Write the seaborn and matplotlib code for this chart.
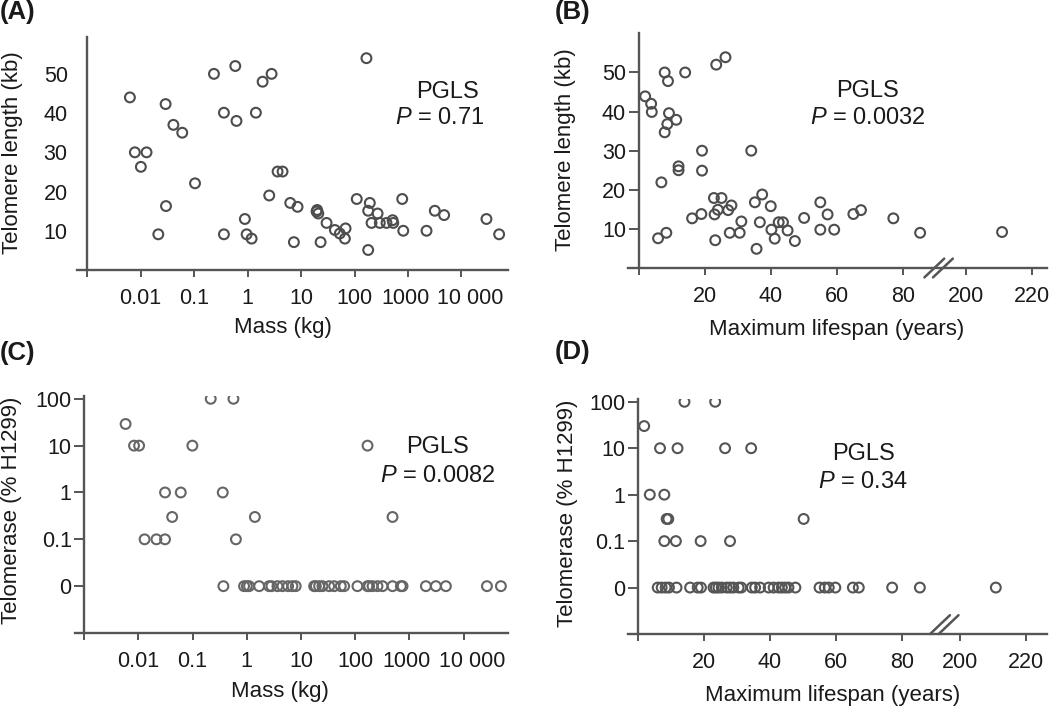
import numpy as np
import seaborn as sns
import matplotlib
matplotlib.use("Agg")
import matplotlib.pyplot as plt
from matplotlib.ticker import NullLocator
from matplotlib.transforms import ScaledTranslation

# (A) telomere length vs body mass
mass_a = [0.0063, 0.0078, 0.0129, 0.0101, 0.0214, 0.0293, 0.0298, 0.041, 0.060, 0.104,
          0.235, 0.361, 0.361, 0.589, 0.62, 0.89, 0.96, 1.19, 1.43, 1.91,
          2.81, 2.54, 3.64, 4.51, 6.28, 8.6, 7.35, 19.5, 21, 20,
          23.2, 30, 42.9, 53, 68, 66, 110, 167, 193, 180,
          270, 208, 297, 396, 515, 530, 180, 780, 815, 2220,
          3170, 4740, 29300, 50600]
tl_a = [44.0, 30.0, 30.0, 26.3, 9.1, 42.3, 16.3, 37.0, 35.0, 22.1,
        50.0, 40.1, 9.1, 52.0, 38.0, 13.0, 9.1, 8.0, 40.1, 48.0,
        50.0, 19.0, 25.1, 25.1, 17.1, 16.1, 7.1, 14.9, 14.4, 15.3,
        7.1, 12.0, 10.2, 9.3, 10.6, 8.0, 18.1, 54.0, 17.1, 15.1,
        14.4, 12.0, 12.0, 12.0, 12.7, 12.0, 5.1, 18.1, 10.0, 10.0,
        15.1, 14.0, 13.0, 9.1]

# (B) telomere length vs maximum lifespan
life_b = [2.0, 3.8, 4.0, 7.9, 8.9, 7.9, 8.7, 9.2, 11.4, 6.9,
          12.1, 12.1, 5.9, 8.4, 14.1, 23.5, 26.3, 19.2, 19.2, 16.2,
          19.0, 22.8, 25.1, 23.0, 24.0, 27.1, 28.1, 23.2, 27.6, 30.6,
          31.1, 34.1, 35.2, 37.4, 36.7, 35.7, 40.0, 40.2, 41.2, 42.4,
          43.7, 45.1, 47.3, 50.1, 55.0, 57.2, 55.0, 59.2, 65.0, 67.3,
          77.1, 85.2, 211]
tl_b = [43.9, 42.0, 39.9, 50.0, 47.8, 34.7, 36.8, 39.6, 37.9, 21.9,
        26.0, 25.0, 7.6, 9.0, 50.0, 52.0, 53.9, 30.0, 24.9, 12.7,
        13.8, 17.9, 17.9, 13.7, 14.9, 14.8, 16.0, 7.1, 9.0, 9.0,
        11.9, 30.0, 16.8, 18.8, 11.7, 4.9, 15.8, 9.8, 7.5, 11.7,
        11.7, 9.6, 6.9, 12.8, 16.8, 13.7, 9.8, 9.8, 13.8, 14.8,
        12.7, 9.0, 9.2]

# (C) telomerase activity vs body mass
mass_c = [0.0058, 0.0083, 0.0103, 0.013, 0.0215, 0.031, 0.031, 0.042, 0.0605, 0.099,
          0.216, 0.567, 0.36, 0.63, 1.41, 169, 489,
          0.37, 0.89, 1.0, 1.10, 1.69, 2.58, 2.85, 3.68, 4.55, 5.79,
          6.96, 8.0, 17.5, 18.8, 21.6, 24.9, 33.1, 40.9, 54.3, 62.6,
          110, 169, 181, 209, 258, 320, 489, 697, 748, 2017,
          3085, 4720, 27000, 48900]
tert_c = [29, 10, 10, 0.1, 0.1, 0.1, 1, 0.3, 1, 10,
          100, 100, 1, 0.1, 0.3, 10, 0.3,
          0, 0, 0, 0, 0, 0, 0, 0, 0, 0,
          0, 0, 0, 0, 0, 0, 0, 0, 0, 0,
          0, 0, 0, 0, 0, 0, 0, 0, 0, 0,
          0, 0, 0, 0]

# (D) telomerase activity vs maximum lifespan
life_d = [2.0, 3.7, 8.1, 6.8, 12.1, 14.2, 23.5, 26.5, 34.4, 8.8,
          9.3, 8.1, 11.6, 19.1, 28.0, 50.3,
          6.1, 7.3, 8.5, 9.5, 11.8, 15.9, 18.2, 19.2, 23.0, 23.7,
          24.5, 25.5, 27.0, 28.0, 29.0, 30.6, 31.4, 34.6, 35.6, 37.1,
          39.7, 41.2, 42.7, 43.7, 44.7, 45.7, 47.8, 55.1, 56.7, 57.9,
          59.9, 65.2, 67.0, 77.1, 85.5, 211]
tert_d = [30, 1, 1, 10, 10, 100, 100, 10, 10, 0.3,
          0.3, 0.1, 0.1, 0.1, 0.1, 0.3,
          0, 0, 0, 0, 0, 0, 0, 0, 0, 0,
          0, 0, 0, 0, 0, 0, 0, 0, 0, 0,
          0, 0, 0, 0, 0, 0, 0, 0, 0, 0,
          0, 0, 0, 0, 0, 0]

mass_ticks = [1e-3, 1e-2, 1e-1, 1, 10, 100, 1000, 10000]
mass_labels = ["", "0.01", "0.1", "1", "10", "100", "1000", "10 000"]
life_ticks = [0, 20, 40, 60, 80, 200, 220]
life_labels = ["", "20", "40", "60", "80", "200", "220"]
tl_ticks = [10, 20, 30, 40, 50]
tert_ticks = [0, 0.1, 1, 10, 100]
tert_labels = ["0", "0.1", "1", "10", "100"]

sns.set_style("ticks")
plt.rcParams["font.family"] = ["Liberation Sans", "DejaVu Sans"]
plt.rcParams["mathtext.fontset"] = "custom"
plt.rcParams["mathtext.it"] = "Liberation Sans:italic"
plt.rcParams["mathtext.rm"] = "Liberation Sans"

W, H = 1050, 707
AX_COL = "#555555"
TXT = "#1a1a1a"
TICK_FS = 15.5
fig = plt.figure(figsize=(10.5, 7.07), dpi=100)


def box(l, t, r, b):
    return [l / W, 1 - b / H, (r - l) / W, (b - t) / H]


def brk(x, gap):
    # broken lifespan axis: values beyond the break are shifted left
    x = np.asarray(x, float)
    return np.where(x > 150, x - gap, x)


def zero_at(y):
    # "0" activity is drawn one decade below 0.1
    y = np.asarray(y, float)
    return np.where(y == 0, 0.01, y)


def style(ax, x0):
    for s in ["top", "right"]:
        ax.spines[s].set_visible(False)
    for s in ["left", "bottom"]:
        ax.spines[s].set_color(AX_COL)
        ax.spines[s].set_linewidth(1.7)
    ax.spines["left"].set_position(("data", x0))
    ax.tick_params(axis="x", direction="out", length=5, width=1.4,
                   color=AX_COL, pad=8, labelsize=TICK_FS, labelcolor=TXT)
    ax.set_xlabel("")
    ax.set_ylabel("")


def mass_axis(ax):
    ax.set_xticks(mass_ticks)
    ax.set_xticklabels(mass_labels)
    ax.xaxis.set_minor_locator(NullLocator())
    labs = ax.get_xticklabels()
    # the last two labels sit a little apart in the original
    labs[-2].set_transform(labs[-2].get_transform() + ScaledTranslation(-0.03, 0, fig.dpi_scale_trans))
    labs[-1].set_transform(labs[-1].get_transform() + ScaledTranslation(0.09, 0, fig.dpi_scale_trans))


def slashes(ax, xc, yc, col):
    for dx in (-1.3, 1.3):
        ax.plot([xc + dx - 3, xc + dx + 3], [yc - 0.04, yc + 0.04],
                transform=ax.get_xaxis_transform(), color=col, lw=1.8,
                clip_on=False)


def scatter(ax, x, y, col):
    sns.scatterplot(x=x, y=y, ax=ax, s=50, marker="o", facecolors="none",
                    edgecolor=col, linewidth=1.5, legend=False, zorder=3)


# ---- (A)
ax = fig.add_axes(box(77, 37, 508, 270))
ax.set_xscale("log")
scatter(ax, mass_a, tl_a, "#4d4d4d")
ax.set_xlim(10 ** -3.19, 10 ** 4.87)
ax.set_ylim(0, 59.4)
style(ax, 1e-3)
mass_axis(ax)
ax.set_yticks(tl_ticks)
ax.tick_params(axis="y", length=0, pad=14, labelsize=TICK_FS, labelcolor=TXT)

# ---- (B)
ax = fig.add_axes(box(628, 33, 1047, 268))
scatter(ax, brk(life_b, 101), tl_b, "#4d4d4d")
ax.set_xlim(-3.2, 123.6)
ax.set_ylim(0, 60.1)
style(ax, 0)
ax.set_xticks(brk(life_ticks, 101))
ax.set_xticklabels(life_labels)
ax.set_yticks(tl_ticks)
ax.tick_params(axis="y", direction="out", length=7, width=1.4, color=AX_COL,
               pad=2, labelsize=TICK_FS, labelcolor=TXT)
slashes(ax, 90.8, 0, AX_COL)

# ---- (C)
ax = fig.add_axes(box(75, 396, 508, 633))
ax.set_xscale("log")
ax.set_yscale("log")
scatter(ax, mass_c, zero_at(tert_c), "#666666")
ax.set_xlim(10 ** -3.17, 10 ** 4.82)
ax.set_ylim(1e-3, 10 ** 2.06)
style(ax, 1e-3)
mass_axis(ax)
ax.set_yticks(zero_at(tert_ticks))
ax.set_yticklabels(tert_labels)
ax.yaxis.set_minor_locator(NullLocator())
ax.tick_params(axis="y", direction="out", length=7, width=1.4, color=AX_COL,
               pad=2, labelsize=TICK_FS, labelcolor=TXT)

# ---- (D)
ax = fig.add_axes(box(628, 399, 1047, 634))
ax.set_yscale("log")
scatter(ax, brk(life_d, 102.5), zero_at(tert_d), "#555555")
ax.set_xlim(-2.9, 124)
ax.set_ylim(1e-3, 10 ** 2.06)
style(ax, 0)
ax.set_xticks(brk(life_ticks, 102.5))
ax.set_xticklabels(life_labels)
ax.set_yticks(zero_at(tert_ticks))
ax.set_yticklabels(tert_labels)
ax.yaxis.set_minor_locator(NullLocator())
ax.tick_params(axis="y", direction="out", length=7, width=1.4, color=AX_COL,
               pad=2, labelsize=TICK_FS, labelcolor=TXT)
slashes(ax, 92.9, 0.04, AX_COL)


def ftext(x, y, s, **kw):
    kw.setdefault("color", TXT)
    fig.text(x / W, 1 - y / H, s, **kw)


# panel letters
for s, x, y in [("(A)", 0, 0), ("(B)", 555, 0), ("(C)", 0, 341), ("(D)", 555, 340)]:
    ftext(x, y, s, fontsize=18.5, fontweight="bold", ha="left", va="top")

# axis titles
ftext(13, 153, "Telomere length (kb)", fontsize=16, rotation=90, ha="center", va="center")
ftext(565, 150, "Telomere length (kb)", fontsize=16, rotation=90, ha="center", va="center")
ftext(12, 510, "Telomerase (% H1299)", fontsize=16, rotation=90, ha="center", va="center")
ftext(567, 513, "Telomerase (% H1299)", fontsize=16, rotation=90, ha="center", va="center")
ftext(283, 328, "Mass (kg)", fontsize=16, ha="center", va="center")
ftext(837, 330, "Maximum lifespan (years)", fontsize=16, ha="center", va="center")
ftext(280, 692, "Mass (kg)", fontsize=16, ha="center", va="center")
ftext(833, 695, "Maximum lifespan (years)", fontsize=16, ha="center", va="center")

# PGLS results
for (x1, y1), (x2, y2), p in [((447, 92), (440, 118), "0.71"),
                              ((867, 91), (868, 118), "0.0032"),
                              ((438, 447), (438, 476), "0.0082"),
                              ((864, 454), (863, 482), "0.34")]:
    ftext(x1, y1, "PGLS", fontsize=17, ha="center", va="center")
    ftext(x2, y2, "$P$ = " + p, fontsize=17, ha="center", va="center")

fig.savefig("out.png", dpi=100)
